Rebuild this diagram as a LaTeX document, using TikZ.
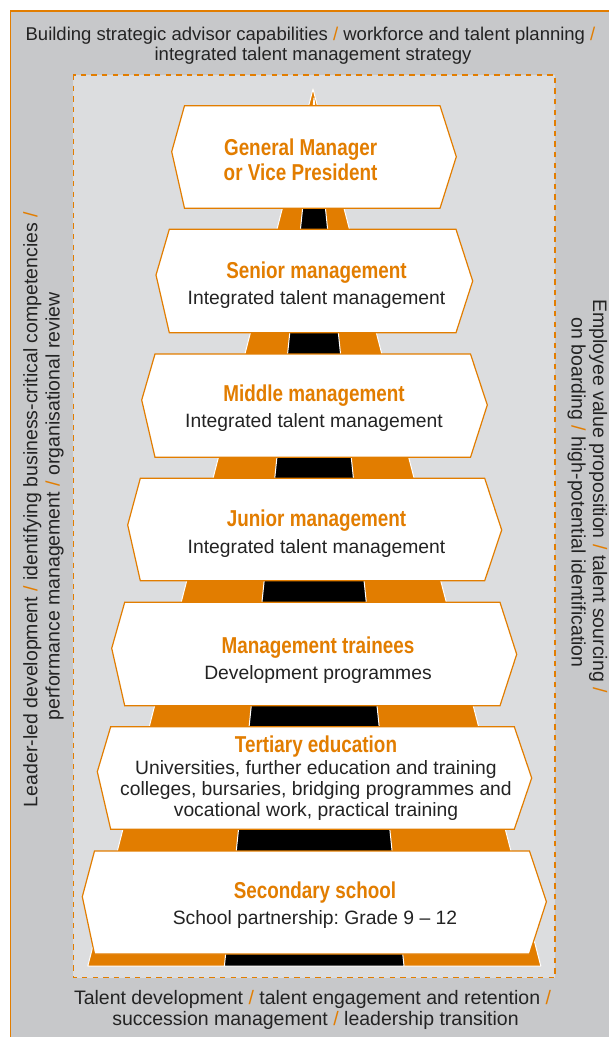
\documentclass[tikz,border=0pt]{standalone}
\usepackage{fontspec}
\setmainfont{Liberation Sans}
\newfontface\condbf{Liberation Sans Bold}[FakeStretch=0.82]
\definecolor{myorange}{RGB}{226,125,0}
\definecolor{outergrey}{RGB}{199,200,202}
\definecolor{innergrey}{RGB}{220,221,223}
\definecolor{mytext}{RGB}{35,35,35}
\newcommand{\orsl}{\textcolor{myorange}{/}}
\frenchspacing
% #1 top y, #2 bottom y, #3 left x of top/bottom edge, #4 right x, #5 left point x, #6 left point y, #7 right point x, #8 right point y
\newcommand{\hexpanel}[8]{%
  \draw[hexbox] (#3,#1) -- (#4,#1) -- (#7,#8) -- (#4,#2) -- (#3,#2) -- (#5,#6) -- cycle;}
\begin{document}
\begin{tikzpicture}[x=1pt,y=-1pt,
  titletext/.style={font=\condbf\fontsize{23}{25}\selectfont, text=myorange, anchor=base, inner sep=0pt},
  bodytext/.style={font=\fontsize{19.3}{21}\selectfont, text=mytext, anchor=base, inner sep=0pt},
  toptext/.style={font=\fontsize{18.5}{20}\selectfont, text=mytext, anchor=base, inner sep=0pt},
  sidetext/.style={font=\fontsize{19.5}{21}\selectfont, text=mytext, anchor=base, inner sep=0pt},
  hexbox/.style={fill=white, draw=myorange, line width=1.2pt, line join=miter},
  dashframe/.style={fill=innergrey, draw=myorange, line width=1.3pt, dash pattern=on 5.3pt off 5.3pt},
  roadedge/.style={draw=white, line width=1pt, line join=round}]
\useasboundingbox (0,0) rectangle (609,1037);
\fill[white] (0,0) rectangle (609,1037);
\fill[outergrey] (10.5,11) rectangle (609,1037);
\draw[myorange, line width=1.5pt] (10.5,1037) -- (10.5,11) -- (609,11);
\draw[dashframe] (73.3,75) rectangle (555,977.7);
% road
\draw[roadedge, fill=myorange] (313,89) -- (540.8,966) -- (87.8,966) -- cycle;
\draw[roadedge, fill=black] (314,98) -- (404,966) -- (224.4,966) -- cycle;
% panels
\hexpanel{105.7}{208.3}{184.5}{440}{171.7}{151.7}{456.3}{156.7}
\hexpanel{229.3}{332.7}{169.3}{456}{156}{275}{472.7}{281}
\hexpanel{354}{457.3}{155}{470.5}{141.7}{400}{487.3}{405}
\hexpanel{478.3}{580.7}{140.3}{484.7}{127.7}{525}{501.7}{530}
\hexpanel{602.3}{705.7}{124.7}{500}{111.7}{648.3}{516.7}{654.3}
\hexpanel{726.7}{829.3}{110.7}{514.3}{97.3}{771.7}{531.7}{778}
\hexpanel{851}{954}{94.5}{529.5}{82.3}{896.7}{546.4}{901.7}
% panel texts
\node[titletext] (gm1) at (300.6,155) {General Manager};
\node[titletext] (gm2) at (300.6,180.3) {or Vice President};
\node[titletext] (sm1) at (316.5,278.3) {Senior management};
\node[bodytext] (sm2) at (316.5,304.3) {Integrated talent management};
\node[titletext] (mm1) at (314,401) {Middle management};
\node[bodytext] (mm2) at (314,427.9) {Integrated talent management};
\node[titletext] (jm1) at (316.5,526.6) {Junior management};
\node[bodytext] (jm2) at (316.5,553.9) {Integrated talent management};
\node[titletext] (mt1) at (318,653.3) {Management trainees};
\node[bodytext] (mt2) at (318,679.5) {Development programmes};
\node[titletext] (te1) at (316,752.6) {Tertiary education};
\node[bodytext] (te2) at (316,774.9) {Universities, further education and training};
\node[bodytext] (te3) at (316,795.7) {colleges, bursaries, bridging programmes and};
\node[bodytext] (te4) at (316,816.5) {vocational work, practical training};
\node[titletext] (ss1) at (315,898.3) {Secondary school};
\node[bodytext] (ss2) at (315,924.9) {School partnership: Grade 9 -- 12};
% outer texts
\node[toptext] (top1) at (310.5,40) {Building strategic advisor capabilities \orsl{} workforce and talent planning \orsl};
\node[toptext] (top2) at (313,60) {integrated talent management strategy};
\node[sidetext] (bot1) at (312.5,1004.5) {Talent development \orsl{} talent engagement and retention \orsl};
\node[sidetext] (bot2) at (315.5,1025.5) {succession management \orsl{} leadership transition};
\node[sidetext, rotate=90] (lft1) at (37.5,509.5) {Leader-led development \orsl{} identifying business-critical competencies \orsl};
\node[sidetext, rotate=90] (lft2) at (59.5,506.5) {performance management \orsl{} organisational review};
\node[sidetext, rotate=-90] (rgt1) at (593,496) {Employee value proposition \orsl{} talent sourcing \orsl};
\node[sidetext, rotate=-90] (rgt2) at (571.5,492.5) {on boarding \orsl{} high-potential identification};
\end{tikzpicture}
\end{document}
